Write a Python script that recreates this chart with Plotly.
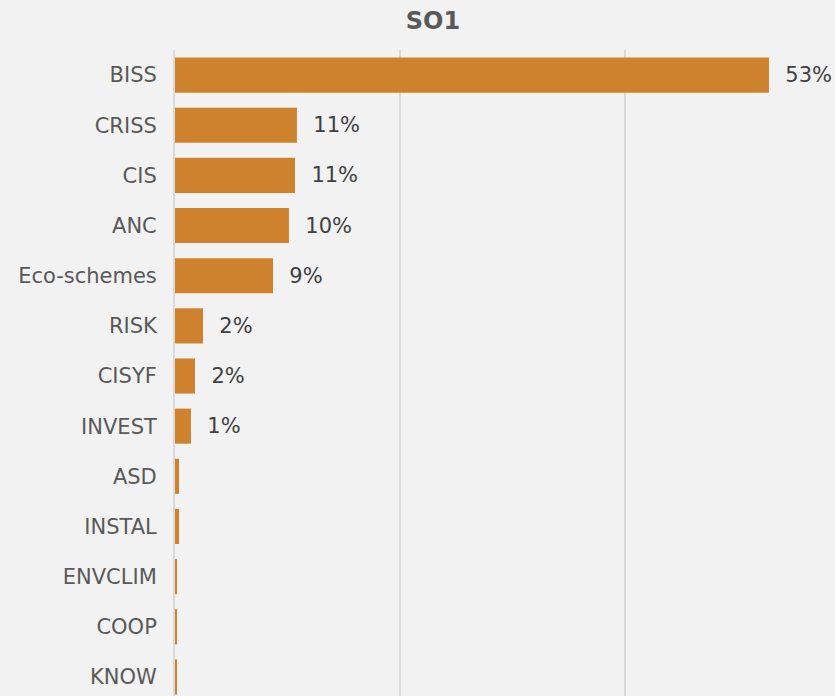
import plotly.graph_objects as go

# share of SO1 budget per intervention type (values in %)
categories = ["BISS", "CRISS", "CIS", "ANC", "Eco-schemes", "RISK", "CISYF",
              "INVEST", "ASD", "INSTAL", "ENVCLIM", "COOP", "KNOW"]
shares = [52.8, 10.84, 10.67, 10.13, 8.71, 2.49, 1.78, 1.42, 0.36, 0.36, 0.18, 0.15, 0.15]

BAR_COLOR = "#CF822E"
BG = "#F2F2F2"
GRID = "#D9D9D9"
FONT = "DejaVu Sans"

# only bars of at least 1% carry a label in the original
labels = [f"\u00a0\u00a0{v:.0f}%" if v >= 1 else "" for v in shares]

fig = go.Figure(go.Bar(
    x=[v / 100 for v in shares],
    y=categories,
    orientation="h",
    marker=dict(color=BAR_COLOR, line=dict(width=0)),
    text=labels,
    textposition="outside",
    textfont=dict(family=FONT, size=21, color="#404040"),
    cliponaxis=False,
))

fig.update_layout(
    width=835,
    height=696,
    paper_bgcolor=BG,
    plot_bgcolor=BG,
    margin=dict(l=175, r=0, t=50, b=0),
    bargap=0.3,
    showlegend=False,
    font=dict(family=FONT, color="#595959"),
    title=dict(
        text="<b>SO1</b>",
        font=dict(family=FONT, size=24, color="#595959"),
        x=433 / 835, xanchor="center",
        y=1 - 21 / 696, yanchor="middle",
    ),
    xaxis=dict(
        range=[0, 0.5867],
        dtick=0.2,
        showgrid=True,
        gridcolor=GRID,
        gridwidth=1.5,
        zeroline=False,
        showticklabels=False,
        fixedrange=True,
    ),
    yaxis=dict(
        range=[12.38, -0.5],
        showline=True,
        linecolor=GRID,
        linewidth=2,
        showgrid=False,
        tickfont=dict(family=FONT, size=21, color="#595959"),
        ticklabelstandoff=12,
        fixedrange=True,
    ),
)

# drop the page's default body margin so the figure sits at the window's top-left corner
fig.write_html(
    "out.html",
    config={"displayModeBar": False},
    post_script="document.body.style.margin='0px';",
)
